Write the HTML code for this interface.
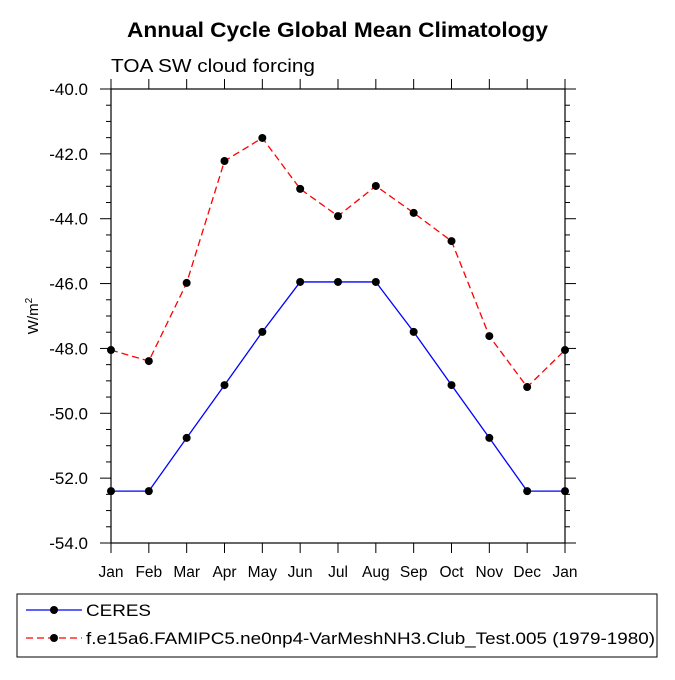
<!DOCTYPE html>
<html><head><meta charset="utf-8"><style>
body{margin:0;background:#fff}
svg text{font-family:"Liberation Sans",sans-serif;fill:#000}
</style></head><body>
<svg id="c" width="675" height="675">
<text x="127" y="37" font-size="21" font-weight="bold" textLength="421" lengthAdjust="spacingAndGlyphs">Annual Cycle Global Mean Climatology</text>
<text x="111" y="72" font-size="18" textLength="204" lengthAdjust="spacingAndGlyphs">TOA SW cloud forcing</text>
<text transform="translate(38,316) rotate(-90)" font-size="15" text-anchor="middle">W/m<tspan font-size="10" dy="-6">2</tspan></text>
<g id="ax"></g><g id="marks"></g>
<rect x="17" y="594" width="640" height="63" fill="none" stroke="#000" stroke-width="1"/>
<g>
<line x1="26" y1="610" x2="82" y2="610" stroke="#00f" stroke-width="1.3"/><circle cx="54" cy="610" r="4" fill="#000"/>
<text x="86" y="616" font-size="17" textLength="65" lengthAdjust="spacingAndGlyphs">CERES</text></g>
<g>
<line x1="26" y1="638" x2="82" y2="638" stroke="#f00" stroke-width="1.3" stroke-dasharray="7,4"/><circle cx="54" cy="638" r="4" fill="#000"/>
<text x="86" y="644" font-size="17" textLength="569" lengthAdjust="spacingAndGlyphs">f.e15a6.FAMIPC5.ne0np4-VarMeshNH3.Club_Test.005 (1979-1980)</text></g>
</svg>
<script>
const months=["Jan","Feb","Mar","Apr","May","Jun","Jul","Aug","Sep","Oct","Nov","Dec","Jan"];
const ceres=[-52.4,-52.4,-50.76,-49.13,-47.49,-45.95,-45.95,-45.95,-47.49,-49.13,-50.76,-52.4,-52.4];
const model=[-48.05,-48.39,-45.98,-42.22,-41.51,-43.08,-43.92,-42.99,-43.82,-44.69,-47.62,-49.19,-48.05];
const yTicks=[-40,-42,-44,-46,-48,-50,-52,-54];
const L=111,R=565,T=89,B=543,yMax=-40,yMin=-54;
const NS="http://www.w3.org/2000/svg";
const xs=i=>L+i*(R-L)/(months.length-1);
const ys=v=>T+(yMax-v)/(yMax-yMin)*(B-T);
function mk(p,tag,a){const e=document.createElementNS(NS,tag);for(const k in a)e.setAttribute(k,a[k]);p.appendChild(e);return e;}
const ax=document.getElementById('ax'),mg=document.getElementById('marks');
const frame=mk(ax,'rect',{x:L,y:T,width:R-L,height:B-T,fill:'none',stroke:'#000','stroke-width':1.2});


months.forEach((m,i)=>{const x=xs(i);
mk(ax,'line',{x1:x,y1:B,x2:x,y2:B+10,stroke:'#000'});
mk(ax,'line',{x1:x,y1:T,x2:x,y2:T-10,stroke:'#000'});
const t=mk(ax,'text',{x:x,y:B+34,'font-size':15.5,'text-anchor':'middle'});t.textContent=m;

});
for(let v=yMax;v>=yMin-0.001;v-=0.5){const y=ys(v);const maj=Math.abs(v/2-Math.round(v/2))<0.01;const len=maj?11:5;
mk(ax,'line',{x1:L,y1:y,x2:L-len,y2:y,stroke:'#000'});
mk(ax,'line',{x1:R,y1:y,x2:R+len,y2:y,stroke:'#000'});}
yTicks.forEach(v=>{const t=mk(ax,'text',{x:L-23,y:ys(v)+6,'font-size':17,'text-anchor':'end'});t.textContent=v.toFixed(1);

});
function series(d,col,dash,name){
const p=mk(mg,'polyline',{points:d.map((v,i)=>xs(i)+','+ys(v)).join(' '),fill:'none',stroke:col,'stroke-width':1.3,'stroke-dasharray':dash});


d.forEach((v,i)=>{const c=mk(mg,'circle',{cx:xs(i),cy:ys(v),r:4,fill:'#000'});

});}
series(ceres,'#00f','none','ceres');
series(model,'#f00','7,4','model');
</script>
</body></html>
